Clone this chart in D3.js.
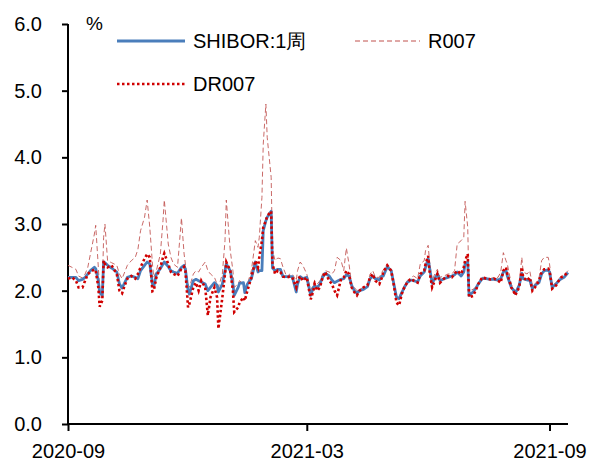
<!DOCTYPE html>
<html>
<head>
<meta charset="utf-8">
<script src="https://cdn.jsdelivr.net/npm/d3@7"></script>
<style>
body{margin:0;background:#fff;}
text{font-family:"Liberation Sans",Arial,sans-serif;}
</style>
</head>
<body>
<script>
var dates=["2020-09-01","2020-09-04","2020-09-07","2020-09-09","2020-09-12","2020-09-14","2020-09-16","2020-09-18","2020-09-21","2020-09-22",
"2020-09-24","2020-09-25","2020-09-27","2020-09-28","2020-09-29","2020-10-01","2020-10-04","2020-10-08","2020-10-10","2020-10-12",
"2020-10-14","2020-10-16","2020-10-19","2020-10-22","2020-10-24","2020-10-26","2020-10-29","2020-10-31","2020-11-02","2020-11-04",
"2020-11-05","2020-11-07","2020-11-10","2020-11-12","2020-11-13","2020-11-16","2020-11-18","2020-11-20","2020-11-23","2020-11-26",
"2020-11-28","2020-11-29","2020-12-01","2020-12-02","2020-12-05","2020-12-07","2020-12-09","2020-12-11","2020-12-14","2020-12-16",
"2020-12-18","2020-12-21","2020-12-23","2020-12-24","2020-12-27","2020-12-29","2020-12-30","2021-01-02","2021-01-04","2021-01-05",
"2021-01-08","2021-01-09","2021-01-12","2021-01-13","2021-01-15","2021-01-18","2021-01-21","2021-01-23","2021-01-24","2021-01-26",
"2021-01-27","2021-01-29","2021-01-30","2021-02-02","2021-02-03","2021-02-05","2021-02-07","2021-02-09","2021-02-11","2021-02-14",
"2021-02-16","2021-02-18","2021-02-21","2021-02-22","2021-02-24","2021-02-26","2021-03-01","2021-03-04","2021-03-06","2021-03-07",
"2021-03-09","2021-03-11","2021-03-13","2021-03-15","2021-03-18","2021-03-20","2021-03-22","2021-03-24","2021-03-27","2021-03-29",
"2021-03-31","2021-04-02","2021-04-04","2021-04-06","2021-04-08","2021-04-10","2021-04-13","2021-04-16","2021-04-18","2021-04-20",
"2021-04-22","2021-04-25","2021-04-27","2021-04-28","2021-05-01","2021-05-04","2021-05-06","2021-05-08","2021-05-10","2021-05-12",
"2021-05-14","2021-05-16","2021-05-19","2021-05-21","2021-05-24","2021-05-26","2021-05-29","2021-05-30","2021-06-01","2021-06-02",
"2021-06-04","2021-06-06","2021-06-08","2021-06-10","2021-06-13","2021-06-16","2021-06-19","2021-06-21","2021-06-23","2021-06-26",
"2021-06-28","2021-06-29","2021-07-01","2021-07-02","2021-07-05","2021-07-07","2021-07-09","2021-07-12","2021-07-15","2021-07-18",
"2021-07-21","2021-07-24","2021-07-26","2021-07-28","2021-07-30","2021-07-31","2021-08-03","2021-08-05","2021-08-06","2021-08-09",
"2021-08-11","2021-08-12","2021-08-15","2021-08-17","2021-08-19","2021-08-21","2021-08-24","2021-08-26","2021-08-28","2021-08-31",
"2021-09-01","2021-09-03","2021-09-06","2021-09-08","2021-09-10","2021-09-12","2021-09-15"];

var shibor=[2.20,2.20,2.20,2.15,2.17,2.20,2.25,2.30,2.35,2.33,
2.15,1.97,1.93,2.43,2.42,2.38,2.34,2.28,2.10,2.04,
2.12,2.20,2.22,2.20,2.18,2.30,2.38,2.43,2.40,2.10,
2.06,2.25,2.33,2.40,2.43,2.36,2.30,2.28,2.26,2.35,
2.38,2.32,2.00,1.95,2.15,2.17,2.15,2.13,2.10,2.00,
2.05,2.12,2.08,1.98,2.10,2.30,2.40,2.30,2.10,1.93,
2.05,2.11,2.12,1.97,2.10,2.18,2.43,2.28,2.30,2.30,
2.90,3.05,3.10,3.19,2.34,2.30,2.32,2.32,2.21,2.21,
2.21,2.21,1.98,2.10,2.21,2.18,2.20,1.93,2.05,2.07,
2.05,2.10,2.20,2.26,2.22,2.16,2.12,2.14,2.17,2.18,
2.24,2.22,2.08,2.00,1.96,2.00,2.02,2.06,2.18,2.22,
2.18,2.16,2.22,2.22,2.36,2.30,2.10,1.90,1.88,1.97,
2.05,2.12,2.16,2.15,2.13,2.22,2.28,2.35,2.48,2.35,
2.11,2.18,2.25,2.15,2.18,2.20,2.22,2.24,2.28,2.22,
2.28,2.40,2.43,1.93,1.98,2.03,2.10,2.18,2.18,2.17,
2.17,2.16,2.18,2.28,2.31,2.22,2.05,2.00,1.96,2.08,
2.26,2.18,2.16,2.16,2.03,2.08,2.12,2.25,2.30,2.31,
2.28,2.05,2.10,2.15,2.18,2.20,2.27];

var dr007=[2.18,2.20,2.15,2.05,2.05,2.15,2.25,2.28,2.32,2.30,
2.05,1.76,1.85,2.45,2.40,2.35,2.38,2.25,2.00,1.96,
2.08,2.18,2.22,2.18,2.25,2.35,2.48,2.55,2.50,1.99,
2.00,2.20,2.35,2.50,2.56,2.40,2.28,2.25,2.22,2.33,
2.36,2.30,1.75,1.80,2.05,2.12,2.00,2.15,2.05,1.63,
1.90,2.05,1.90,1.43,1.90,2.25,2.43,2.30,2.00,1.68,
1.75,1.82,1.90,1.85,2.00,2.20,2.45,2.35,2.50,2.75,
2.95,3.05,3.12,3.19,2.40,2.25,2.30,2.28,2.21,2.20,
2.21,2.20,2.05,2.15,2.22,2.15,2.20,1.87,2.00,2.10,
2.00,2.05,2.20,2.28,2.15,2.10,2.00,1.93,2.18,2.20,
2.30,2.25,2.05,1.98,1.93,2.00,2.05,2.08,2.20,2.25,
2.15,2.10,2.20,2.28,2.38,2.30,2.08,1.82,1.78,1.95,
2.05,2.12,2.18,2.15,2.12,2.25,2.30,2.40,2.52,2.30,
2.05,2.15,2.25,2.12,2.18,2.22,2.20,2.25,2.30,2.25,
2.35,2.45,2.55,1.90,1.92,2.00,2.10,2.20,2.18,2.17,
2.18,2.15,2.12,2.30,2.35,2.25,2.05,1.98,1.93,2.05,
2.35,2.20,2.15,2.20,2.00,2.05,2.15,2.28,2.32,2.33,
2.30,2.03,2.08,2.15,2.20,2.22,2.28];

var r007=[2.38,2.35,2.32,2.22,2.19,2.25,2.35,2.55,2.85,2.98,
2.35,2.00,2.05,2.80,3.00,2.45,2.42,2.38,2.25,2.18,
2.28,2.38,2.45,2.50,2.62,2.90,3.10,3.36,2.95,2.40,
2.20,2.30,2.55,3.05,3.36,2.70,2.50,2.40,2.35,3.09,
2.55,2.40,2.10,2.05,2.25,2.30,2.28,2.35,2.43,2.30,
2.25,2.20,2.10,2.05,2.25,2.75,3.36,2.60,2.30,2.05,
2.10,2.15,2.10,2.00,2.10,2.30,2.75,2.65,2.80,3.40,
4.20,4.80,4.30,3.70,2.60,2.45,2.49,2.48,2.35,2.20,
2.25,2.25,2.15,2.30,2.43,2.38,2.25,2.00,2.10,2.15,
2.10,2.15,2.25,2.30,2.28,2.25,2.30,2.50,2.45,2.30,
2.64,2.40,2.10,2.05,2.00,2.02,2.05,2.10,2.25,2.30,
2.20,2.20,2.28,2.31,2.40,2.32,2.12,1.92,1.90,2.00,
2.08,2.15,2.20,2.22,2.18,2.40,2.45,2.60,2.68,2.45,
2.15,2.25,2.32,2.20,2.22,2.25,2.25,2.30,2.70,2.75,
2.80,3.34,2.95,2.00,2.02,2.05,2.12,2.20,2.20,2.18,
2.20,2.20,2.28,2.57,2.45,2.40,2.10,2.02,1.98,2.10,
2.50,2.28,2.25,2.30,2.08,2.10,2.18,2.45,2.50,2.50,
2.40,2.08,2.12,2.18,2.22,2.24,2.30];

var yTicks=[0,1,2,3,4,5,6];
var xTicks=["2020-09-01","2021-03-01","2021-09-01"];
var seriesNames=["SHIBOR:1周","R007","DR007"];

var width=595, height=465;
var parseDate=d3.timeParse("%Y-%m-%d");

var x=d3.scaleTime()
    .domain([parseDate("2020-09-01"), parseDate("2021-09-15")])
    .range([68, 568]);
var y=d3.scaleLinear()
    .domain([0, 6])
    .range([424, 24]);

var svg=d3.select("body").append("svg").attr("width",width).attr("height",height);

// axes
var yAxis=d3.axisLeft(y).tickValues(yTicks).tickFormat(d3.format(".1f")).tickSizeOuter(0).tickSize(6).tickPadding(20);
var xAxis=d3.axisBottom(x).tickValues(xTicks.map(parseDate)).tickFormat(d3.timeFormat("%Y-%m")).tickSizeOuter(0).tickSize(7).tickPadding(13);

var gy=svg.append("g").attr("transform","translate(68,0)").call(yAxis);
var gx=svg.append("g").attr("transform","translate(0,424)").call(xAxis);
[gy,gx].forEach(function(g){
  g.select(".domain").attr("stroke","#000").attr("stroke-width",2);
  g.selectAll(".tick line").attr("stroke","#000").attr("stroke-width",2);
  g.selectAll(".tick text").attr("font-size",20).attr("fill","#000")
    .attr("font-family","'Liberation Sans',Arial,sans-serif");
});
gy.select(".domain").attr("d","M0,24V424");
gx.select(".domain").attr("d","M68,0H568");

function line(vals){
  return d3.line()
    .x(function(d,i){return x(parseDate(dates[i]));})
    .y(function(d){return y(d);})(vals);
}

svg.append("path").attr("d",line(r007))
  .attr("fill","none").attr("stroke","#c0504d").attr("stroke-width",1)
  .attr("stroke-dasharray","5,3").attr("opacity",0.85);
svg.append("path").attr("d",line(shibor))
  .attr("fill","none").attr("stroke","#4a7ebb").attr("stroke-width",2.8)
  .attr("stroke-linejoin","round");
svg.append("path").attr("d",line(dr007))
  .attr("fill","none").attr("stroke","#d00000").attr("stroke-width",2.6)
  .attr("stroke-dasharray","2.5,2.5");

// unit label
svg.append("text").attr("x",86).attr("y",30).attr("font-size",19).text("%");

// legend
var legend=[
  {name:seriesNames[0], x1:117, x2:185, y:41, color:"#4a7ebb", w:2.8, dash:null},
  {name:seriesNames[1], x1:355, x2:420, y:41, color:"#c0504d", w:1, dash:"5,3"},
  {name:seriesNames[2], x1:117, x2:185, y:84, color:"#d00000", w:2.6, dash:"2.5,2.5"}
];
legend.forEach(function(l){
  svg.append("line").attr("x1",l.x1).attr("x2",l.x2).attr("y1",l.y).attr("y2",l.y)
    .attr("stroke",l.color).attr("stroke-width",l.w).attr("stroke-dasharray",l.dash);
  svg.append("text").attr("x",l.x2+8).attr("y",l.y+7).attr("font-size",20)
    .attr("fill","#000").text(l.name);
});
</script>
</body>
</html>
